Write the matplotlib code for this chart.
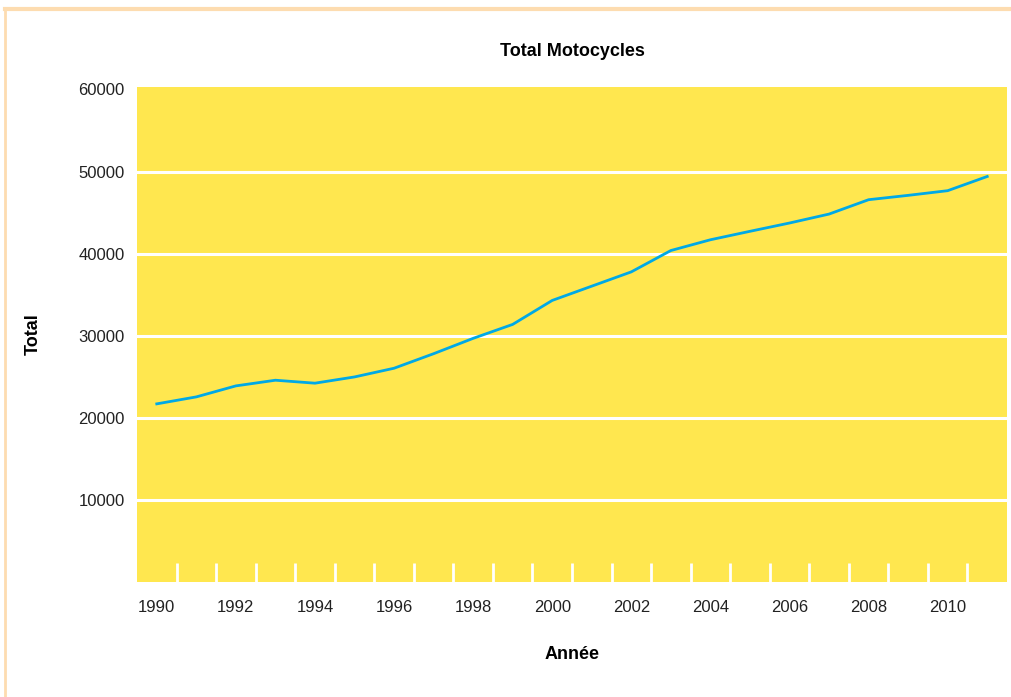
import matplotlib
matplotlib.use("Agg")
import matplotlib.pyplot as plt
from matplotlib.lines import Line2D

# data
years = list(range(1990, 2012))
totals = [21700, 22550, 23890, 24580, 24220, 24980, 26040, 27810, 29680, 31380,
          34300, 36040, 37780, 40380, 41690, 42720, 43730, 44820, 46570, 47100,
          47670, 49400]
year_labels = list(range(1990, 2011, 2))
y_ticks = [10000, 20000, 30000, 40000, 50000, 60000]

plt.rcParams['font.family'] = ['Liberation Sans', 'DejaVu Sans']

fig = plt.figure(figsize=(10.11, 6.97), dpi=100)
ax = fig.add_axes([137 / 1011, 1 - 582 / 697, 870 / 1011, 495 / 697])

ax.set_facecolor('#FFE74F')
ax.plot(years, totals, color='#00A9E6', linewidth=2.0, zorder=3)

ax.set_xlim(1989.5, 2011.5)
ax.set_ylim(0, 60300)

ax.set_yticks(y_ticks)
ax.set_yticklabels([str(v) for v in y_ticks])
ax.set_xticks(year_labels)
ax.set_xticks([y + 0.5 for y in years[:-1]], minor=True)

ax.grid(axis='y', color='white', linewidth=2.2, zorder=1)
ax.get_ygridlines()[-1].set_visible(False)
ax.set_axisbelow(True)

ax.tick_params(axis='y', length=0, pad=9, labelsize=12, labelcolor='#222222')
ax.tick_params(axis='x', which='major', length=0, pad=13, labelsize=12, labelcolor='#222222')
ax.tick_params(axis='x', which='minor', direction='in', length=14, width=2,
               color='white')

for s in ax.spines.values():
    s.set_visible(False)

ax.set_title('Total Motocycles', fontsize=13, fontweight='bold', pad=22)
ax.set_xlabel('Année', fontsize=13, fontweight='bold', labelpad=22)
ax.set_ylabel('Total', fontsize=13, fontweight='bold', labelpad=26)

# thin peach frame at top and left of the picture
frame = '#FDDCB0'
fig.add_artist(Line2D([5 / 1011, 1], [1 - 9 / 697, 1 - 9 / 697],
                      transform=fig.transFigure, color=frame, linewidth=3))
fig.add_artist(Line2D([5 / 1011, 5 / 1011], [0, 1 - 9 / 697],
                      transform=fig.transFigure, color=frame, linewidth=2))

fig.savefig('out.png', dpi=100)
